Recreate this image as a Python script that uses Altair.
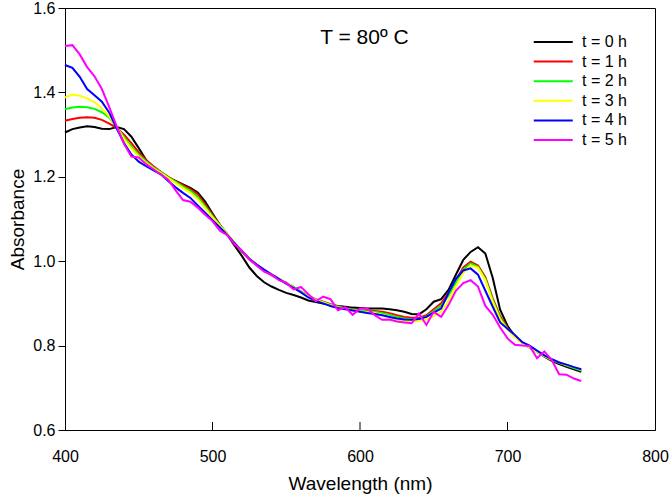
import altair as alt
import pandas as pd

wavelength = list(range(400, 751, 5))

t0 = [1.305, 1.313, 1.317, 1.320, 1.318, 1.314, 1.313, 1.318, 1.313, 1.295,
      1.268, 1.240, 1.218, 1.208, 1.198, 1.190, 1.182, 1.174, 1.163, 1.141,
      1.113, 1.086, 1.063, 1.037, 1.012, 0.985, 0.965, 0.950, 0.940, 0.932,
      0.925, 0.920, 0.914, 0.907, 0.903, 0.900, 0.897, 0.894, 0.892, 0.890,
      0.889, 0.888, 0.888, 0.888, 0.886, 0.884, 0.880, 0.875, 0.874, 0.886,
      0.904, 0.910, 0.932, 0.968, 1.003, 1.022, 1.033, 1.018, 0.960, 0.885,
      0.847, 0.822, 0.806, 0.795, 0.785, 0.774, 0.764, 0.756, 0.750, 0.744,
      0.738]
t1 = [1.333, 1.337, 1.340, 1.341, 1.340, 1.335, 1.326, 1.316, 1.300, 1.280,
      1.258, 1.240, 1.225, 1.212, 1.200, 1.190, 1.180, 1.171, 1.158, 1.135,
      1.110, 1.086, 1.064, 1.042, 1.022, 1.004, 0.990, 0.977, 0.967, 0.957,
      0.948, 0.938, 0.928, 0.918, 0.910, 0.904, 0.898, 0.893, 0.889, 0.886,
      0.884, 0.883, 0.882, 0.880, 0.877, 0.872, 0.868, 0.866, 0.866, 0.872,
      0.886, 0.900, 0.925, 0.955, 0.985, 0.999, 0.990, 0.962, 0.912, 0.870,
      0.842, 0.822, 0.808, 0.797, 0.786, 0.776, 0.767, 0.760, 0.754, 0.748,
      0.742]
t2 = [1.360, 1.364, 1.366, 1.365, 1.361, 1.353, 1.340, 1.318, 1.294, 1.272,
      1.252, 1.236, 1.222, 1.211, 1.199, 1.188, 1.177, 1.167, 1.152, 1.130,
      1.107, 1.085, 1.064, 1.043, 1.023, 1.005, 0.991, 0.978, 0.968, 0.958,
      0.949, 0.939, 0.928, 0.917, 0.909, 0.903, 0.897, 0.892, 0.888, 0.885,
      0.883, 0.881, 0.880, 0.877, 0.873, 0.868, 0.864, 0.862, 0.863, 0.869,
      0.882, 0.895, 0.918, 0.950, 0.980, 0.995, 0.987, 0.958, 0.908, 0.866,
      0.840, 0.821, 0.807, 0.796, 0.785, 0.775, 0.766, 0.759, 0.753, 0.747,
      0.741]
t3 = [1.388, 1.395, 1.392, 1.386, 1.377, 1.362, 1.343, 1.318, 1.290, 1.267,
      1.248, 1.233, 1.220, 1.209, 1.197, 1.185, 1.173, 1.162, 1.147, 1.126,
      1.104, 1.084, 1.064, 1.044, 1.024, 1.006, 0.992, 0.979, 0.969, 0.959,
      0.949, 0.938, 0.927, 0.916, 0.908, 0.902, 0.896, 0.891, 0.887, 0.884,
      0.881, 0.879, 0.877, 0.873, 0.868, 0.862, 0.859, 0.857, 0.858, 0.862,
      0.870, 0.880, 0.905, 0.940, 0.972, 0.990, 0.984, 0.955, 0.904, 0.862,
      0.838, 0.820, 0.806, 0.796, 0.785, 0.775, 0.767, 0.760, 0.754, 0.749,
      0.743]
t4 = [1.465, 1.458, 1.437, 1.408, 1.393, 1.378, 1.352, 1.315, 1.280, 1.253,
      1.236, 1.225, 1.215, 1.206, 1.190, 1.175, 1.162, 1.150, 1.132, 1.115,
      1.097, 1.080, 1.062, 1.043, 1.024, 1.006, 0.992, 0.980, 0.969, 0.958,
      0.947, 0.937, 0.926, 0.914, 0.906, 0.900, 0.894, 0.889, 0.886, 0.883,
      0.880, 0.877, 0.875, 0.872, 0.868, 0.864, 0.862, 0.861, 0.863, 0.868,
      0.878, 0.888, 0.925, 0.958, 0.978, 0.983, 0.968, 0.930, 0.892, 0.855,
      0.840, 0.825, 0.808, 0.800, 0.788, 0.777, 0.768, 0.760, 0.755, 0.749,
      0.744]
t5 = [1.510, 1.512, 1.490, 1.460, 1.438, 1.408, 1.365, 1.320, 1.278, 1.248,
      1.246, 1.230, 1.218, 1.205, 1.193, 1.168, 1.145, 1.141, 1.127, 1.110,
      1.095, 1.072, 1.062, 1.040, 1.025, 1.004, 0.990, 0.975, 0.968, 0.955,
      0.949, 0.933, 0.939, 0.922, 0.905, 0.916, 0.910, 0.884, 0.891, 0.873,
      0.888, 0.888, 0.872, 0.861, 0.862, 0.857, 0.855, 0.853, 0.876, 0.849,
      0.880, 0.868, 0.896, 0.930, 0.948, 0.955, 0.940, 0.894, 0.873, 0.843,
      0.817, 0.802, 0.800, 0.799, 0.770, 0.786, 0.766, 0.732, 0.731, 0.722,
      0.716]

series_names = ["t = 0 h", "t = 1 h", "t = 2 h", "t = 3 h", "t = 4 h", "t = 5 h"]
series_colors = ["#000000", "#ff0000", "#00ff00", "#ffff00", "#0000ff", "#ff00ff"]
series_values = [t0, t1, t2, t3, t4, t5]

x_ticks = [400, 500, 600, 700, 800]
y_ticks = [0.6, 0.8, 1.0, 1.2, 1.4, 1.6]
inner_x_ticks = [500, 600, 700]

annotation_text = ["T = 80º C"]
annotation_x = [603]
annotation_y = [1.529]

rows = []
for name, vals in zip(series_names, series_values):
    for w, a in zip(wavelength, vals):
        rows.append({"wl": w, "abs": a, "series": name})
df = pd.DataFrame(rows)

FONT = "Liberation Sans"
W, H = 590, 422

xscale = alt.Scale(domain=[400, 800], nice=False)
yscale = alt.Scale(domain=[0.6, 1.6], nice=False, zero=False)

lines = alt.Chart(df).mark_line(strokeWidth=2, interpolate="linear").encode(
    x=alt.X("wl:Q", scale=xscale, title="Wavelength (nm)",
            axis=alt.Axis(values=x_ticks, format="d", tickSize=0, labelPadding=18,
                          labelFlush=False, titlePadding=10, grid=False)),
    y=alt.Y("abs:Q", scale=yscale, title="Absorbance",
            axis=alt.Axis(values=y_ticks, format=".1f", tickSize=7, labelPadding=3,
                          labelFlush=False, titlePadding=5, grid=False)),
    color=alt.Color("series:N",
                    scale=alt.Scale(domain=series_names, range=series_colors),
                    legend=alt.Legend(title=None, orient="none", legendX=487, legendY=23,
                                      symbolType="M-3,0H1", symbolStrokeWidth=2,
                                      symbolSize=380, labelFontSize=16, labelFont=FONT,
                                      labelOffset=8, rowPadding=0.6, labelColor="#000000")),
    order=alt.Order("wl:Q"),
)

tick_df = pd.DataFrame({"tx": inner_x_ticks})
inner_ticks = alt.Chart(tick_df).mark_rule(color="#000000", strokeWidth=1).encode(
    x=alt.X("tx:Q", scale=xscale),
    y=alt.value(H),
    y2=alt.value(H - 8),
)

ann_df = pd.DataFrame({"text": annotation_text, "ax": annotation_x, "ay": annotation_y})
annotation = alt.Chart(ann_df).mark_text(font=FONT, fontSize=21, color="#000000").encode(
    x=alt.X("ax:Q", scale=xscale),
    y=alt.Y("ay:Q", scale=yscale),
    text="text:N",
)

chart = alt.layer(lines, inner_ticks, annotation).properties(
    width=W, height=H,
    autosize=alt.AutoSizeParams(type="none"),
    padding={"left": 65, "top": 8, "right": 14, "bottom": 66},
    background="#ffffff",
).configure_view(
    stroke="#000000", strokeWidth=1
).configure_axis(
    labelFont=FONT, labelFontSize=16, labelColor="#000000",
    titleFont=FONT, titleFontSize=19, titleFontWeight="normal", titleColor="#000000",
    domainColor="#000000", domainWidth=1, tickColor="#000000", tickWidth=1,
)

chart.save("out.html", embed_options={"renderer": "svg", "actions": False})
